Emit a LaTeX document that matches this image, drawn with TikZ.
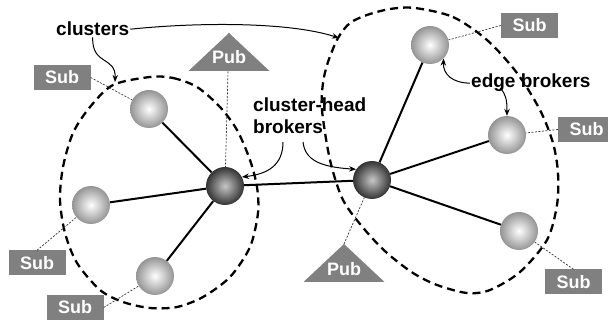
\documentclass[tikz,border=0pt]{standalone}
\usepackage{fontspec}
\setmainfont{Liberation Sans}
\usetikzlibrary{arrows,arrows.meta}

\begin{document}
\begin{tikzpicture}[x=1pt,y=-1pt]
		\tikzset{broker/.style = {shape=circle, inner sep=0pt, minimum size=38pt, inner color=white, outer color=black!42}}
		\tikzset{head/.style = {broker, inner color=black!22, outer color=black!80}}
		\tikzset{sub/.style = {fill=black!50, text=white, font=\fontsize{18}{21}\selectfont\bfseries, minimum width=57pt, minimum height=25pt, inner sep=0pt}}
		\tikzset{pub/.style = {fill=black!50}}
		\tikzset{pubtext/.style = {text=white, font=\fontsize{18}{21}\selectfont\bfseries, inner sep=0pt}}
		\tikzset{note/.style = {font=\fontsize{19}{22}\selectfont\bfseries, align=left, inner sep=1pt}}
		\tikzset{edge/.style = {line width=2pt}}
		\tikzset{attach/.style = {dash pattern=on 2pt off 1.5pt, line width=0.7pt, black!80}}
		\tikzset{cluster/.style = {dash pattern=on 8pt off 5pt, line width=2.3pt}}
		\tikzset{pointer/.style = {-{Stealth[length=7pt,width=5.5pt]}, line width=1pt}}

		\useasboundingbox (0,0) rectangle (608,320);
		\clip (0,0) rectangle (608,320);

		\draw[cluster] plot[smooth cycle] coordinates {(150,77) (173,78) (197,87) (220,107) (237,130) (250,160) (257,187) (258,213) (250,247) (230,277) (203,297) (177,307) (150,308) (123,302) (100,290) (77,263) (65,233) (60,200) (63,167) (73,133) (90,107) (113,85)};
		\draw[cluster] plot[smooth cycle] coordinates {(415,8) (453,17) (487,40) (517,73) (540,110) (553,143) (558,173) (557,205) (547,240) (520,272) (490,290) (467,293) (437,285) (413,273) (387,253) (365,230) (343,200) (330,160) (322,110) (323,83) (328,62) (338,38) (350,23) (367,15) (390,9)};

		\node[head] (H_1) at (225,186) {};
		\node[broker] (B_1) at (149,109) {};
		\node[broker] (B_2) at (91,205) {};
		\node[broker] (B_3) at (155,276) {};
		\node[head] (H_2) at (372,180) {};
		\node[broker] (C_1) at (430,45) {};
		\node[broker] (C_2) at (507,135) {};
		\node[broker] (C_3) at (519,231) {};

		\node[sub] (S_1) at (62,77.5) {Sub};
		\node[sub] (S_2) at (37,263) {Sub};
		\node[sub] (S_3) at (75,307.5) {Sub};
		\node[sub] (S_4) at (529.5,25.5) {Sub};
		\node[sub] (S_5) at (586.5,129.5) {Sub};
		\node[sub] (S_6) at (573.5,282) {Sub};

		\coordinate (P_1) at (229,33);
		\coordinate (P_2) at (344,244);
		\draw[attach] (P_1) -- (H_1);
		\draw[attach] (P_2) -- (H_2);
		\fill[pub] (P_1) -- ++(-40.5,38) -- ++(81,0) -- cycle;
		\fill[pub] (P_2) -- ++(-40.5,38) -- ++(81,0) -- cycle;
		\node[pubtext] (T_1) at (229,57) {Pub};
		\node[pubtext] (T_2) at (344,269) {Pub};

		\draw[edge] (H_1) to (B_1) {};
		\draw[edge] (H_1) to (B_2) {};
		\draw[edge] (H_1) to (B_3) {};
		\draw[edge] (H_1) to (H_2) {};
		\draw[edge] (H_2) to (C_1) {};
		\draw[edge] (H_2) to (C_2) {};
		\draw[edge] (H_2) to (C_3) {};

		\draw[attach] (S_1.east) -- (B_1);
		\draw[attach] (S_2.north) -- (B_2);
		\draw[attach] (S_3.east) -- (B_3);
		\draw[attach] (S_4.west) -- (C_1);
		\draw[attach] (S_5.west) -- (C_2);
		\draw[attach] (S_6.north) -- (C_3);

		\node[note, anchor=base west] (L_1) at (55,36) {clusters};
		\node[note, anchor=north west] (L_2) at (252,97) {cluster-head\\brokers};
		\node[note, anchor=base west] (L_3) at (470,88) {edge brokers};

		\coordinate (E_1) at (339,38);
		\coordinate (E_2) at (115,82);
		\coordinate (K_1) at (283,142);
		\coordinate (K_2) at (303,142);
		\coordinate (K_3) at (500,88);
		\draw[pointer] (L_1.east) .. controls (200,22) and (290,22) .. (E_1);
		\draw[pointer] (L_1.south) .. controls (92,66) and (116,56) .. (E_2);
		\draw[pointer] (K_1) .. controls (283,165) and (268,174) .. (H_1.28);
		\draw[pointer] (K_2) .. controls (305,160) and (320,167) .. (H_2.146);
		\draw[pointer] (L_3.west) .. controls (452,83) and (443,74) .. (C_1.south east);
		\draw[pointer] (K_3) .. controls (506,94) and (507,100) .. (C_2.north);

	\end{tikzpicture}
\end{document}
